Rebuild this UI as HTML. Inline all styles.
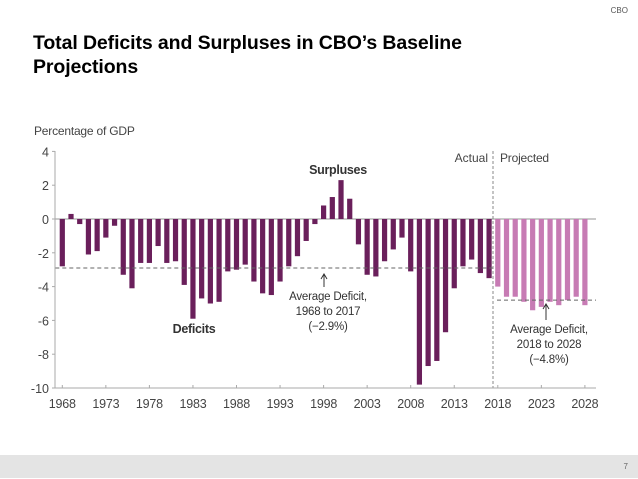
<!DOCTYPE html>
<html><head><meta charset="utf-8"><style>
body{margin:0;width:638px;height:479px;background:#fff;overflow:hidden;font-family:"Liberation Sans",sans-serif;position:relative}
#title{position:absolute;left:33px;top:31px;font-size:19.5px;font-weight:bold;line-height:24px;color:#000;margin:0;letter-spacing:-0.1px}
#cbo{position:absolute;right:10px;top:6px;font-size:8px;color:#555}
#footer{position:absolute;left:0;top:455px;width:638px;height:23px;background:#e4e4e4}
#pg{position:absolute;right:10px;top:7px;font-size:8px;color:#666}
svg{position:absolute;left:0;top:0}
</style></head><body>
<div id="cbo">CBO</div>
<h1 id="title">Total Deficits and Surpluses in CBO’s Baseline<br>Projections</h1>
<svg id="chart" width="638" height="455" font-family="Liberation Sans, sans-serif"></svg>
<div id="footer"><span id="pg">7</span></div>
<script>
const years=[];for(let y=1968;y<=2028;y++)years.push(y);
const actualValues=[-2.8,0.3,-0.3,-2.1,-1.9,-1.1,-0.4,-3.3,-4.1,-2.6,-2.6,-1.6,-2.6,-2.5,-3.9,-5.9,-4.7,-5.0,-4.9,-3.1,-3.0,-2.7,-3.7,-4.4,-4.5,-3.7,-2.8,-2.2,-1.3,-0.3,0.8,1.3,2.3,1.2,-1.5,-3.3,-3.4,-2.5,-1.8,-1.1,-3.1,-9.8,-8.7,-8.4,-6.7,-4.1,-2.8,-2.4,-3.2,-3.5];
const projectedValues=[-4.0,-4.6,-4.6,-4.9,-5.4,-5.2,-4.9,-5.1,-4.8,-4.6,-5.1];
const yTicks=[4,2,0,-2,-4,-6,-8,-10];
const xTicks=[1968,1973,1978,1983,1988,1993,1998,2003,2008,2013,2018,2023,2028];
const avgActual=-2.9, avgProjected=-4.8;
const NS='http://www.w3.org/2000/svg';
const svg=document.getElementById('chart');
const X=y=>62.3+(y-1968)*8.71;
const Y=v=>219-v*16.9;
function mk(t,a,txt){const e=document.createElementNS(NS,t);for(const k in a)e.setAttribute(k,a[k]);if(txt!=null)e.textContent=txt;svg.appendChild(e);return e;}
let e;
e=mk('text',{x:34,y:135,'font-size':12,fill:'#444','letter-spacing':'-0.2'},'Percentage of GDP');


e=mk('line',{x1:X(1968)-7,x2:596,y1:Y(0),y2:Y(0),stroke:'#aaa','stroke-width':1.2});


years.forEach((yr,i)=>{const proj=i>=actualValues.length;const v=proj?projectedValues[i-actualValues.length]:actualValues[i];
 const r=mk('rect',{x:X(yr)-2.6,width:5.2,y:Math.min(Y(v),Y(0)),height:Math.abs(Y(v)-Y(0)),fill:proj?'#c77bb4':'#6a1f5b'});
 
 });
e=mk('line',{x1:X(1968)-7,x2:493,y1:Y(avgActual),y2:Y(avgActual),stroke:'#666','stroke-dasharray':'4,3'});


e=mk('line',{x1:497,x2:596,y1:Y(avgProjected),y2:Y(avgProjected),stroke:'#666','stroke-dasharray':'4,3'});


e=mk('line',{x1:493,x2:493,y1:151,y2:388,stroke:'#888','stroke-dasharray':'3,2'});


e=mk('line',{x1:55,x2:55,y1:151,y2:388,stroke:'#aaa'});


e=mk('line',{x1:55,x2:596,y1:388,y2:388,stroke:'#aaa'});


yTicks.forEach(t=>{mk('line',{x1:52,x2:55,y1:Y(t),y2:Y(t),stroke:'#aaa'});
 const l=mk('text',{x:49,y:Y(t)+5,'font-size':12.5,fill:'#444','text-anchor':'end'},String(t));
 
 });
xTicks.forEach(t=>{mk('line',{x1:X(t),x2:X(t),y1:385,y2:388,stroke:'#aaa'});
 const l=mk('text',{x:X(t),y:408,'font-size':12.5,fill:'#444','text-anchor':'middle','letter-spacing':'-0.2'},String(t));
 
 });
e=mk('text',{x:488,y:162,'font-size':12,fill:'#444','text-anchor':'end'},'Actual');


e=mk('text',{x:500,y:162,'font-size':12,fill:'#444','letter-spacing':'-0.2'},'Projected');


e=mk('text',{x:338,y:174,'font-size':12.5,'font-weight':'bold',fill:'#333','text-anchor':'middle','letter-spacing':'-0.3'},'Surpluses');


e=mk('text',{x:194,y:333,'font-size':12.5,'font-weight':'bold',fill:'#333','text-anchor':'middle','letter-spacing':'-0.3'},'Deficits');


mk('line',{x1:324,x2:324,y1:275,y2:287,stroke:'#333'});mk('path',{d:'M321,279 L324,274 L327,279',fill:'none',stroke:'#333'});
['Average Deficit,','1968 to 2017','(−2.9%)'].forEach((s,i)=>{const t=mk('text',{x:328,y:300+i*15,'font-size':11.5,fill:'#333','text-anchor':'middle','letter-spacing':'-0.2'},s);
 
 });
mk('line',{x1:546,x2:546,y1:305,y2:320,stroke:'#333'});mk('path',{d:'M543,309 L546,304 L549,309',fill:'none',stroke:'#333'});
['Average Deficit,','2018 to 2028','(−4.8%)'].forEach((s,i)=>{const t=mk('text',{x:549,y:333+i*15,'font-size':11.5,fill:'#333','text-anchor':'middle','letter-spacing':'-0.2'},s);
 
 });
</script>
</body></html>
